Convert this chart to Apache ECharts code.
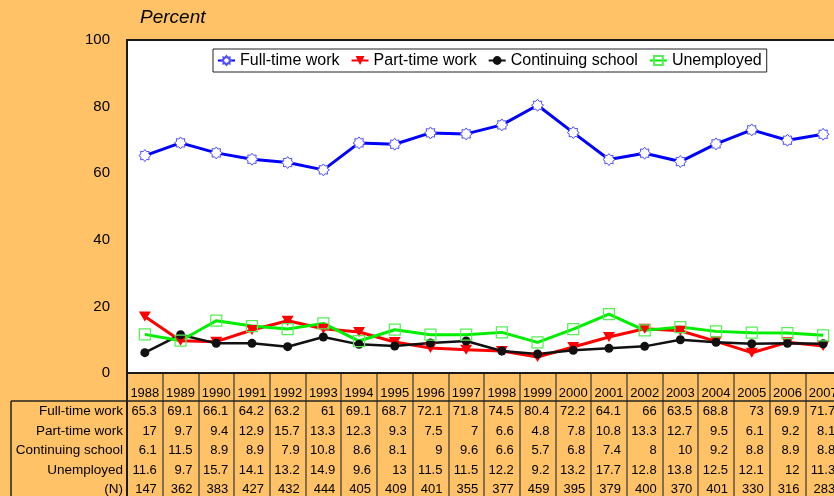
<!DOCTYPE html>
<html>
<head>
<meta charset="utf-8">
<title>Percent</title>
<script src="https://cdn.jsdelivr.net/npm/echarts@6/dist/echarts.min.js"></script>
<style>
    html, body { margin: 0; padding: 0; background: #FFC266; }
    #chart { width: 834px; height: 496px; }
</style>
</head>
<body>
<div id="chart"></div>
<script>
// data
var years = ['1988','1989','1990','1991','1992','1993','1994','1995','1996','1997',
             '1998','1999','2000','2001','2002','2003','2004','2005','2006','2007'];
var fullTime   = [65.3, 69.1, 66.1, 64.2, 63.2, 61, 69.1, 68.7, 72.1, 71.8,
                  74.5, 80.4, 72.2, 64.1, 66, 63.5, 68.8, 73, 69.9, 71.7];
var partTime   = [17, 9.7, 9.4, 12.9, 15.7, 13.3, 12.3, 9.3, 7.5, 7,
                  6.6, 4.8, 7.8, 10.8, 13.3, 12.7, 9.5, 6.1, 9.2, 8.1];
var contSchool = [6.1, 11.5, 8.9, 8.9, 7.9, 10.8, 8.6, 8.1, 9, 9.6,
                  6.6, 5.7, 6.8, 7.4, 8, 10, 9.2, 8.8, 8.9, 8.8];
var unemployed = [11.6, 9.7, 15.7, 14.1, 13.2, 14.9, 9.6, 13, 11.5, 11.5,
                  12.2, 9.2, 13.2, 17.7, 12.8, 13.8, 12.5, 12.1, 12, 11.3];
var nCount     = [147, 362, 383, 427, 432, 444, 405, 409, 401, 355,
                  377, 459, 395, 379, 400, 370, 401, 330, 316, 283];
var yTicks = [0, 20, 40, 60, 80, 100];

var seriesNames = ['Full-time work', 'Part-time work', 'Continuing school', 'Unemployed'];
var rowLabels = ['Full-time work', 'Part-time work', 'Continuing school', 'Unemployed', '(N)'];
var rowValues = [fullTime, partTime, contSchool, unemployed, nCount];

var FONT = '"Liberation Sans", Arial, sans-serif';
var starPath = 'path://M20 10 L16.47 12.68 L17.07 17.07 L12.68 16.47 L10 20 L7.32 16.47 L2.93 17.07 L3.53 12.68 L0 10 L3.53 7.32 L2.93 2.93 L7.32 3.53 L10 0 L12.68 3.53 L17.07 2.93 L16.47 7.32 Z';

// table row layout (label centre distance below the plot bottom)
var rowMargins = [38, 58, 77.5, 97, 116.5];
var plotBottom = 373;
var plotWidth = 714; // plot runs past the right edge of the window

var xAxes = [{
    // year header row
    type: 'category', gridIndex: 0, data: years, position: 'bottom',
    axisLine: {show: false}, axisTick: {show: false},
    axisLabel: {interval: 0, margin: 20, verticalAlign: 'middle',
        color: '#000', fontSize: 13, fontFamily: FONT}
}];
rowValues.forEach(function (arr, k) {
    xAxes.push({
        type: 'category', gridIndex: 0, data: years, position: 'bottom',
        axisLine: {show: false}, axisTick: {show: false},
        axisLabel: {
            interval: 0, margin: rowMargins[k], verticalAlign: 'middle',
            formatter: function (v, i) { return '{v|' + arr[i] + '}'; },
            rich: {v: {width: 24, align: 'right', fontSize: 13, fontFamily: FONT, color: '#000'}}
        }
    });
});
// column separators of the table
xAxes.push({
    type: 'category', gridIndex: 1, data: years,
    axisLine: {show: false}, axisTick: {show: false},
    axisLabel: {show: false, interval: 0},
    splitLine: {show: true, interval: 0, lineStyle: {color: '#5e5040', width: 1.5}}
});

var graphics = [
    {type: 'line', shape: {x1: 11, y1: 401, x2: 834, y2: 401}, style: {stroke: '#222', lineWidth: 1.5}, z: 10},
    {type: 'line', shape: {x1: 11, y1: 401, x2: 11, y2: 500}, style: {stroke: '#222', lineWidth: 1.5}, z: 10}
];
rowLabels.forEach(function (name, k) {
    graphics.push({
        type: 'text', x: 123, y: plotBottom + rowMargins[k], z: 10,
        style: {text: name, align: 'right', verticalAlign: 'middle',
            font: '13.5px ' + FONT, fill: '#000'}
    });
});

var myChart = echarts.init(document.getElementById('chart'));
var option = {
    backgroundColor: '#FFC266',
    textStyle: {fontFamily: FONT},
    grid: [
        {left: 127, width: plotWidth, top: 40, bottom: 123, show: true, outerBoundsMode: 'none',
            backgroundColor: '#fff', borderColor: '#1a1a1a', borderWidth: 2, z: 1},
        {left: 127, width: plotWidth, top: 373, bottom: -5, outerBoundsMode: 'none', z: 0}
    ],
    legend: {
        data: seriesNames,
        left: 213, top: 49,
        padding: [3, 5, 3, 4],
        itemGap: 11, itemWidth: 17, itemHeight: 11,
        backgroundColor: '#fff', borderColor: '#222', borderWidth: 1,
        textStyle: {fontSize: 16, color: '#000', fontFamily: FONT, lineHeight: 17}
    },
    xAxis: xAxes,
    yAxis: [{
        type: 'value', gridIndex: 0, min: 0, max: 100, interval: 20,
        name: 'Percent', nameLocation: 'end', nameGap: 22,
        nameTextStyle: {fontSize: 19, fontStyle: 'italic', color: '#000', align: 'left',
            verticalAlign: 'middle', padding: [0, 0, 0, 13], fontFamily: FONT},
        axisLine: {show: false}, axisTick: {show: false}, splitLine: {show: false},
        axisLabel: {margin: 17, fontSize: 15, color: '#000', fontFamily: FONT,
            customValues: yTicks}
    }, {
        type: 'value', gridIndex: 1, min: 0, max: 1,
        axisLine: {show: true, lineStyle: {color: '#1a1a1a', width: 2}},
        axisTick: {show: false}, axisLabel: {show: false}, splitLine: {show: false}
    }],
    graphic: graphics,
    series: [
        {
            name: 'Full-time work', type: 'line', data: fullTime,
            symbol: starPath, symbolSize: 12,
            lineStyle: {color: '#0000ff', width: 3},
            itemStyle: {color: '#fff', borderColor: '#5050ff', borderWidth: 1},
            z: 3
        },
        {
            name: 'Part-time work', type: 'line', data: partTime,
            symbol: 'triangle', symbolRotate: 180, symbolSize: [12, 10],
            lineStyle: {color: '#ff0000', width: 3},
            itemStyle: {color: '#ff0000'},
            z: 3
        },
        {
            name: 'Continuing school', type: 'line', data: contSchool,
            symbol: 'circle', symbolSize: 9,
            lineStyle: {color: '#111', width: 2.5},
            itemStyle: {color: '#111'},
            z: 3
        },
        {
            name: 'Unemployed', type: 'line', data: unemployed,
            symbol: 'rect', symbolSize: 11,
            lineStyle: {color: '#00ee00', width: 3},
            itemStyle: {color: 'rgba(255,255,255,0)', borderColor: '#55ee55', borderWidth: 1.2},
            z: 3
        }
    ]
};
myChart.setOption(option);
</script>
</body>
</html>
